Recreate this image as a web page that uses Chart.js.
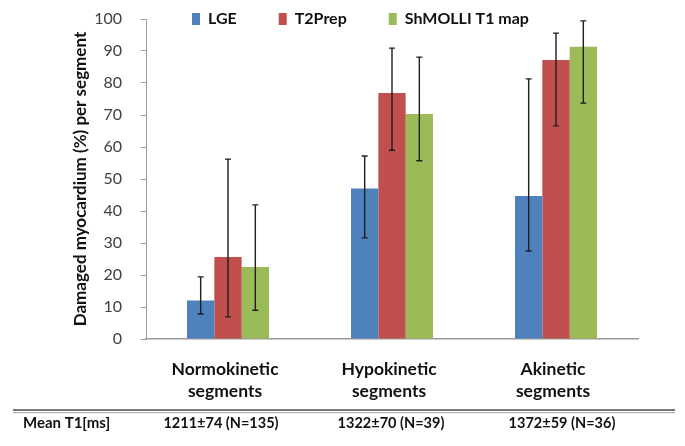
<!DOCTYPE html>
<html>
<head>
<meta charset="utf-8">
<script src="https://cdn.jsdelivr.net/npm/chart.js@4.4.1/dist/chart.umd.min.js"></script>
<style>
  html, body { margin: 0; padding: 0; background: #fff; }
  canvas { display: block; }
</style>
</head>
<body>
<canvas id="c" width="685" height="446"></canvas>
<script>
// ---- data ----
const categories = [["Normokinetic", "segments"], ["Hypokinetic", "segments"], ["Akinetic", "segments"]];
const seriesNames = ["LGE", "T2Prep", "ShMOLLI T1 map"];
const lgeValues = [12, 47, 44.7];
const lgeLow = [7.8, 31.6, 27.5];
const lgeHigh = [19.4, 57.2, 81.3];
const t2Values = [25.6, 76.9, 87.2];
const t2Low = [6.9, 59, 66.6];
const t2High = [56.2, 90.9, 95.6];
const shValues = [22.5, 70.3, 91.3];
const shLow = [9, 55.7, 73.7];
const shHigh = [41.9, 88.1, 99.4];
const yTicks = [0, 10, 20, 30, 40, 50, 60, 70, 80, 90, 100];
const tableHeader = "Mean T1[ms]";
const meanT1 = ["1211\u00B174 (N=135)", "1322\u00B170 (N=39)", "1372\u00B159 (N=36)"];
const yTitle = "Damaged myocardium (%) per segment";

const colors = ["#4F81BD", "#C0504D", "#9BBB59"];
const lows = [lgeLow, t2Low, shLow];
const highs = [lgeHigh, t2High, shHigh];

const FONT = "Lato, 'Open Sans', sans-serif";

const errorBars = {
  id: 'errorBars',
  afterDatasetsDraw(chart) {
    const ctx = chart.ctx;
    const y = chart.scales.y;
    ctx.save();
    ctx.strokeStyle = '#1e1e1e';
    ctx.lineWidth = 1.4;
    chart.data.datasets.forEach((ds, di) => {
      const meta = chart.getDatasetMeta(di);
      meta.data.forEach((bar, i) => {
        const x = bar.x;
        const yl = y.getPixelForValue(lows[di][i]);
        const yh = y.getPixelForValue(highs[di][i]);
        ctx.beginPath();
        ctx.moveTo(x, yl); ctx.lineTo(x, yh);
        ctx.moveTo(x - 3, yl); ctx.lineTo(x + 3, yl);
        ctx.moveTo(x - 3, yh); ctx.lineTo(x + 3, yh);
        ctx.stroke();
      });
    });
    ctx.restore();
  }
};

const legendPlace = {
  id: 'legendPlace',
  beforeLayout(chart) {
    const lg = chart.legend;
    if (lg && !lg._patched) {
      const orig = lg.fit;
      lg.fit = function () { orig.call(this); this.height = 19; };
      lg._patched = true;
    }
  },
  afterLayout(chart) {
    const lg = chart.legend;
    const pad = chart.options.plugins.legend.labels.padding;
    lg.top = 19 - pad - 8;
    lg.bottom = 40;
    lg.left = 192 - pad;
    lg.right = 685;
  }
};

const tableRow = {
  id: 'tableRow',
  afterDraw(chart) {
    const ctx = chart.ctx;
    const x = chart.scales.x;
    const shift = [-7, -1, 6];
    ctx.save();
    ctx.strokeStyle = '#7a7a7a';
    ctx.lineWidth = 2;
    ctx.beginPath(); ctx.moveTo(13, 410); ctx.lineTo(675, 410); ctx.stroke();
    ctx.strokeStyle = '#b5b5b5';
    ctx.lineWidth = 1.2;
    ctx.beginPath(); ctx.moveTo(13, 412.6); ctx.lineTo(675, 412.6); ctx.stroke();
    ctx.fillStyle = '#111';
    ctx.font = "bold 15px " + FONT;
    ctx.textBaseline = 'middle';
    ctx.textAlign = 'left';
    ctx.fillText(tableHeader, 23, 423);
    ctx.font = "bold 14.5px " + FONT;
    ctx.textAlign = 'center';
    meanT1.forEach((t, i) => ctx.fillText(t, x.getPixelForValue(i) + shift[i], 423));
    ctx.restore();
  }
};

new Chart(document.getElementById('c'), {
  type: 'bar',
  data: {
    labels: categories,
    datasets: [
      { label: seriesNames[0], data: lgeValues, backgroundColor: colors[0] },
      { label: seriesNames[1], data: t2Values, backgroundColor: colors[1] },
      { label: seriesNames[2], data: shValues, backgroundColor: colors[2] }
    ]
  },
  options: {
    responsive: false,
    animation: false,
    devicePixelRatio: 1,
    layout: { padding: { left: 0, right: 47, top: 0, bottom: 0 } },
    datasets: { bar: { categoryPercentage: 0.5, barPercentage: 1.0, borderWidth: 0 } },
    plugins: {
      tooltip: { enabled: false },
      legend: {
        position: 'top',
        align: 'start',
        labels: {
          boxWidth: 8,
          boxHeight: 12,
          padding: 42,
          color: '#111',
          font: { family: FONT, size: 16, weight: 'bold' }
        }
      }
    },
    scales: {
      x: {
        grid: { display: false, drawTicks: false },
        border: { display: true, color: '#9a9a9a', width: 1.5 },
        ticks: {
          padding: 19,
          labelOffset: -3,
          color: '#111',
          maxRotation: 0,
          font: { family: FONT, size: 17.5, weight: 'bold', lineHeight: 1.28 }
        },
        afterFit(s) { s.height = 107; }
      },
      y: {
        min: 0,
        max: 100,
        afterBuildTicks(s) { s.ticks = yTicks.map(v => ({ value: v })); },
        grid: { drawOnChartArea: false, drawTicks: true, tickLength: 5, color: '#a0a0a0' },
        border: { display: true, color: '#a0a0a0', width: 1 },
        ticks: {
          padding: 19,
          color: '#404040',
          font: { family: FONT, size: 16 }
        },
        title: {
          display: true,
          text: yTitle,
          color: '#111',
          padding: { top: 70, bottom: 0 },
          font: { family: FONT, size: 17, weight: 'bold' }
        },
        afterFit(s) { s.width = 146; s.paddingTop = 8; s.paddingBottom = 8; }
      }
    }
  },
  plugins: [errorBars, legendPlace, tableRow]
});
</script>
</body>
</html>
